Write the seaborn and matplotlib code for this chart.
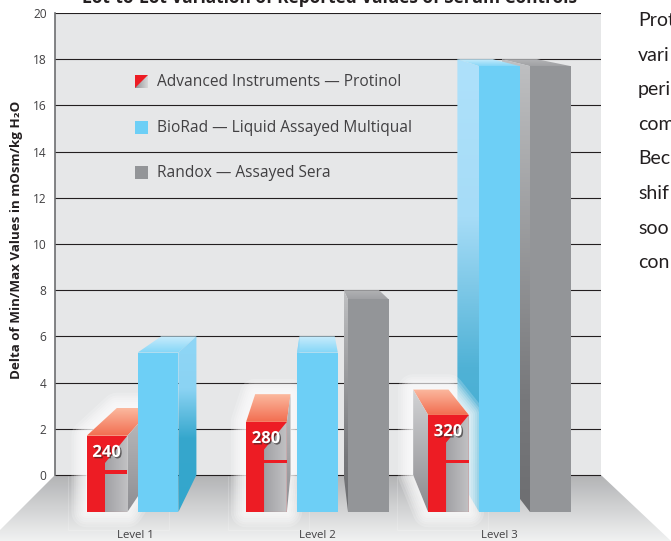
import matplotlib
matplotlib.use("Agg")
import matplotlib.pyplot as plt
import matplotlib.patheffects as pe
from matplotlib.colors import LinearSegmentedColormap
from matplotlib.patches import Polygon, Rectangle
import numpy as np
import pandas as pd
import seaborn as sns

levels = ["Level 1", "Level 2", "Level 3"]
products = ["Advanced Instruments — Protinol", "BioRad — Liquid Assayed Multiqual", "Randox — Assayed Sera"]

# value at the front face of each bar, read against the wall axis
protinol = [1.7, 2.3, 2.6]
biorad = [5.3, 5.3, 17.7]
randox = [np.nan, 7.6, 17.7]

# value at the rear edge of the bar top
protinol_rear = [2.9, 3.5, 3.7]
biorad_rear = [6.0, 6.0, 18.0]
randox_rear = [np.nan, 8.0, 18.0]

# red stripe inside the Protinol bars, and the labels on them
protinol_stripe = [0.13, 0.6, 0.6]
protinol_labels = ["240", "280", "320"]

y_ticks = [0, 2, 4, 6, 8, 10, 12, 14, 16, 18, 20]
title = "Lot-to-Lot Variation of Reported Values of Serum Controls"
ylabel = "Delta of Min/Max Values in mOsm/kg H₂O"
side_text = ["Prot", "vari", "peri", "com", "Bec", "shif", "soo", "con"]

# perspective of the drawing: bar floor line, vanishing x, rear scale
FLOOR = -1.6
VANISH_X = 0.986
REAR = 0.868

BLUE = "#6dcff6"
GRAY = "#939598"
RED = "#ed1c24"
DARK = "#414042"

sns.set_style("white")
plt.rcParams["font.family"] = ["Open Sans", "DejaVu Sans"]


def gradient(ax, verts, colors, zorder, horizontal=False):
    # fill a polygon with a gradient, top to bottom or left to right
    poly = Polygon(verts, facecolor="none", edgecolor="none", transform=ax.transData)
    ax.add_patch(poly)
    cmap = LinearSegmentedColormap.from_list("g", colors)
    ramp = np.linspace(0, 1, 256)
    ramp = ramp[None, :] if horizontal else ramp[:, None]
    xs, ys = zip(*verts)
    extent = (min(xs), max(xs), min(ys), max(ys))
    im = ax.imshow(ramp, extent=extent, aspect="auto", cmap=cmap, vmin=0, vmax=1,
                   origin="upper", zorder=zorder, interpolation="bilinear")
    im.set_clip_path(poly)


def rear_x(x):
    return VANISH_X + REAR * (x - VANISH_X)


def top_and_sides(ax, bar, rear_val, top_colors, side_colors, zorder):
    x0, x1 = bar.get_x(), bar.get_x() + bar.get_width()
    top = bar.get_y() + bar.get_height()
    gradient(ax, [(x0, top), (x1, top), (rear_x(x1), rear_val), (rear_x(x0), rear_val)],
             top_colors, zorder)
    # only the side facing the vanishing point shows
    edge = x1 if x1 < VANISH_X else x0
    gradient(ax, [(edge, top), (rear_x(edge), rear_val), (rear_x(edge), 0), (edge, FLOOR)],
             side_colors, zorder)


fig = plt.figure(figsize=(6.71, 5.41), dpi=100)

# backdrop in pixel units, y runs downward so gradients are listed bottom first
bg = fig.add_axes([0, 0, 1, 1])
bg.set_xlim(0, 671)
bg.set_ylim(541, 0)
bg.axis("off")
bg.add_patch(Rectangle((55, 13), 546, 462, facecolor="#e6e7e8", edgecolor="none"))
gradient(bg, [(55, 475), (601, 475), (671, 541), (0, 541), (0, 530)], ["#f1f2f2", "#b2b3b5"], 1)
bg.set_xlim(0, 671)
bg.set_ylim(541, 0)
for x0, x1 in [(68, 169), (228, 309), (397, 488)]:
    bg.plot([x0, x0, x1, x1], [476, 530, 530, 476], color="white", lw=0.5, alpha=0.25, zorder=2)

bg.text(329, 3, title, fontsize=12.4, fontweight="bold", color="#231f20", ha="center", va="baseline")
for i, word in enumerate(side_text):
    bg.text(638, 26 + i * 34.6, word, fontsize=14, family=["Lato", "DejaVu Sans"], color="#231f20", va="baseline")

# legend
gradient(bg, [(135, 75), (148, 75), (148, 88), (135, 88)], ["#8f9093", "#d8d9da"], 3, horizontal=True)
bg.add_patch(Polygon([(135, 75), (148, 75), (135, 88)], facecolor=RED, edgecolor="none", zorder=4))
bg.add_patch(Rectangle((135, 121), 13, 13, facecolor=BLUE, edgecolor="none"))
bg.add_patch(Rectangle((135, 166), 13, 13, facecolor=GRAY, edgecolor="none"))
for y, name in zip([82, 128, 173], products):
    bg.text(157, y, name, fontsize=11.2, color=DARK, va="center")

# the chart itself
ax = fig.add_axes([55 / 671, 0, 546 / 671, 528 / 541])
ax.patch.set_alpha(0)

df = pd.DataFrame({
    "level": levels * 3,
    "value": protinol + biorad + randox,
    "product": [p for p in products for _ in levels],
}).dropna()
sns.barplot(data=df, x="level", y="value", hue="product", order=levels, hue_order=products,
            palette=[RED, BLUE, GRAY], saturation=1, width=0.84, gap=0.2, errorbar=None, legend=False,
            linewidth=0, zorder=6, ax=ax)

rears = [protinol_rear, biorad_rear, randox_rear]
ext_z = [5, 3, 2.5]
top_cols = [["#fbb99f", "#f26d50"], ["#c8ecfc", "#84d6f7"], ["#b3b4b6", "#a0a1a4"]]

for prod_i, cont in enumerate(ax.containers):
    for bar in cont:
        centre = bar.get_x() + bar.get_width() / 2
        lvl = int(round(centre))
        if np.isnan(bar.get_height()):
            continue
        # bars stand on the floor in front of the wall
        value = bar.get_height()
        bar.set_y(FLOOR)
        bar.set_height(value - FLOOR)
        # Level 1 has no Randox bar, its pair is centred under the label
        if lvl == 0:
            bar.set_x(bar.get_x() + 0.124)
        x0, x1 = bar.get_x(), bar.get_x() + bar.get_width()

        if prod_i == 0:
            side = ["#d2d3d5", "#8a8a8e"] if x0 > VANISH_X else ["#bcbcbe", "#8e8e92"]
        elif prod_i == 1:
            if lvl == 2:
                side = [(0, "#aee1fb"), (0.35, "#a6dcf7"), (0.68, "#50b2d6"), (1, "#3aa9cf")]
            else:
                side = [(0, "#8fd6f6"), (0.3, "#8bd3f3"), (0.58, "#36a7cd"), (1, "#33a6cc")]
        else:
            side = [(0, "#bfc0c2"), (0.75, "#77787b"), (1, "#6d6e71")]
        top_and_sides(ax, bar, rears[prod_i][lvl], top_cols[prod_i], side, ext_z[prod_i])

        if prod_i == 0:
            # soft white glow round the whole block
            rx0, rx1 = rear_x(x0), rear_x(x1)
            rear_val = rears[0][lvl]
            if lvl == 2:
                outline = [(x0, FLOOR), (rx0, 0), (rx0, rear_val), (rx1, rear_val), (x1, value), (x1, FLOOR)]
            else:
                outline = [(x0, FLOOR), (x0, value), (rx0, rear_val), (rx1, rear_val), (rx1, 0), (x1, FLOOR)]
            glow = Polygon(outline, facecolor="white", edgecolor="white", lw=0, zorder=4)
            glow.set_path_effects([pe.Stroke(linewidth=w, foreground="white", alpha=0.2, joinstyle="round")
                                   for w in (22, 18, 15, 12, 9, 6, 3)] + [pe.Normal()])
            ax.add_patch(glow)

            # gray inner face and stripe
            split = x0 + bar.get_width() * 0.44
            gradient(ax, [(split, value - 1.2), (x1, value), (x1, FLOOR), (split, FLOOR)],
                     ["#a0a0a4", "#c2c2c4"], 7, horizontal=True)
            ax.add_patch(Rectangle((split, protinol_stripe[lvl] - 0.07), x1 - split, 0.14,
                                   facecolor=RED, edgecolor="none", zorder=8))
            ax.text((x0 + x1) / 2 - 0.003, value - 0.7, protinol_labels[lvl], color="white", fontsize=12,
                    fontweight="bold", ha="center", va="center", zorder=9,
                    path_effects=[pe.withSimplePatchShadow(offset=(1, -1), shadow_rgbFace="#231f20", alpha=0.6)])

ax.set_xlim(-0.442, 2.558)
ax.set_ylim(-2.857, 20)
ax.set_yticks(y_ticks)
ax.set_axisbelow(True)
ax.yaxis.grid(True, color="#231f20", lw=0.8)
ax.xaxis.grid(False)
ax.set_xlabel("")
ax.set_ylabel(ylabel, fontsize=9.6, fontweight="bold", color="#231f20")
ax.yaxis.set_label_coords(-32 / 546, (541 - 240) / 528)
ax.tick_params(axis="y", length=0, pad=6, labelsize=8.6, labelcolor=DARK)
ax.tick_params(axis="x", length=0, pad=-8, labelsize=8.2, labelcolor=DARK)
for name in ["top", "right", "bottom"]:
    ax.spines[name].set_visible(False)
ax.spines["left"].set_bounds(0, 20)
ax.spines["left"].set_color("#6d6e71")
ax.spines["left"].set_linewidth(1.2)

fig.savefig("out.png", dpi=100)
